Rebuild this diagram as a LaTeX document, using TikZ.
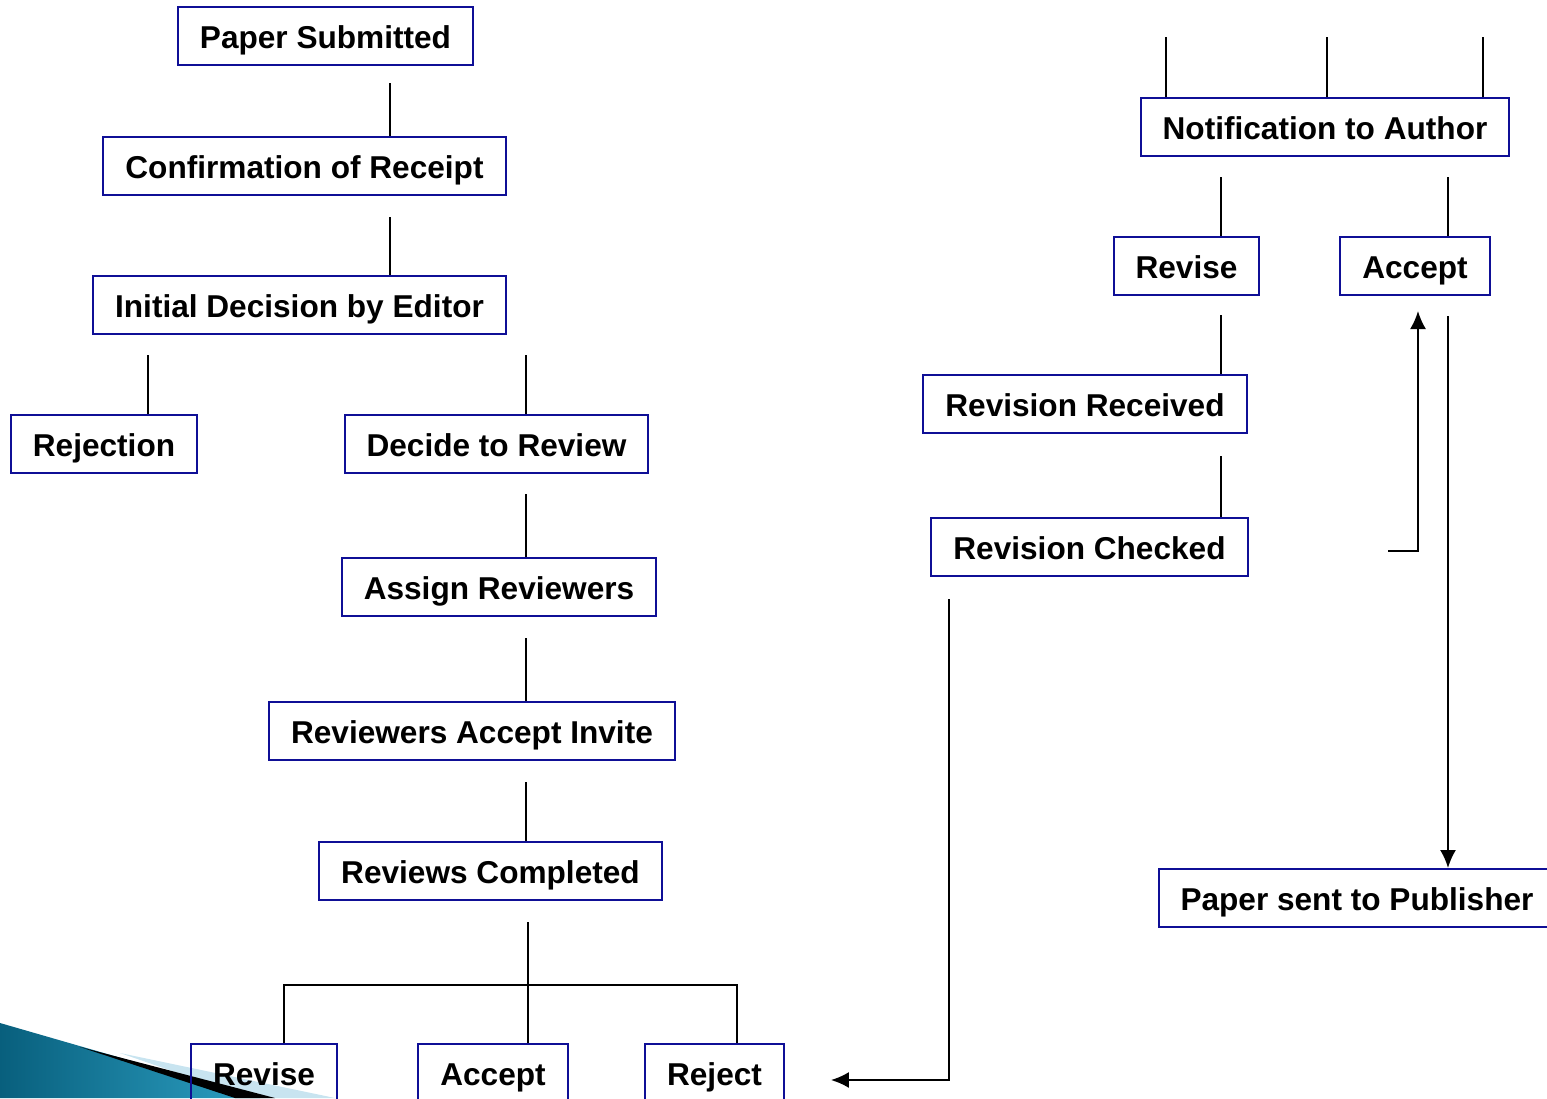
\documentclass[tikz,border=0pt]{standalone}
\usepackage{fontspec}
\setmainfont{Liberation Sans}
\usetikzlibrary{arrows.meta}

\definecolor{boxblue}{RGB}{15,15,150}
\definecolor{tealdark}{RGB}{8,95,125}
\definecolor{teallight}{RGB}{45,160,195}
\definecolor{paleblue}{RGB}{200,228,240}

\tikzset{
	stage/.style={draw=boxblue,line width=1pt,inner xsep=11pt,minimum height=29pt,
		text height=14pt,text depth=2pt,
		font=\fontsize{15.8}{19}\selectfont\bfseries},
	link/.style={line width=1pt},
	flow/.style={line width=1pt,-{Latex[length=9pt,width=8pt]}}
}

\begin{document}
\begin{tikzpicture}[x=0.5pt,y=-0.5pt]

\useasboundingbox (0,0) rectangle (1547,1098);
\clip (0,0) rectangle (1547,1098);

\def\stub#1#2#3{
	\draw[link] (#1,#2) coordinate (top) -- (top |- #3.north);
}

% corner swoosh
\fill[paleblue] (120,1053)--(335,1098)--(250,1098)--cycle;
\shade[left color=tealdark,right color=teallight] (0,1023)--(90,1049)--(260,1098)--(0,1098)--cycle;
\fill[black] (80,1047)--(275,1098)--(235,1098)--cycle;

% left column
\node[stage] (submitted) at (325.5,36) {Paper Submitted};
\node[stage] (receipt) at (304.5,166) {Confirmation of Receipt};
\node[stage] (initial) at (299.5,305) {Initial Decision by Editor};
\node[stage] (rejection) at (104,444) {Rejection};
\node[stage] (decide) at (496.5,444) {Decide to Review};
\node[stage] (assign) at (499,587) {Assign Reviewers};
\node[stage] (invite) at (472,731) {Reviewers Accept Invite};
\node[stage] (completed) at (490.5,871) {Reviews Completed};
\node[stage] (revise) at (264,1073) {Revise};
\node[stage] (accept) at (493,1073) {Accept};
\node[stage] (reject) at (714.5,1073) {Reject};

% right column
\node[stage] (notify) at (1325,127) {Notification to Author};
\node[stage] (revisetwo) at (1186.5,266) {Revise};
\node[stage] (accepttwo) at (1415,266) {Accept};
\node[stage] (received) at (1085,404) {Revision Received};
\node[stage] (checked) at (1089.5,547) {Revision Checked};
\node[stage] (publisher) at (1357,898) {Paper sent to Publisher};

\stub{390}{83}{receipt}
\stub{390}{217}{initial}
\stub{148}{355}{rejection}
\stub{526}{355}{decide}
\stub{526}{494}{assign}
\stub{526}{638}{invite}
\stub{526}{782}{completed}
\stub{528}{922}{accept}

\coordinate (fork) at (528,985);
\draw[link] ([xshift=10pt]revise.north) |- (fork) -| ([xshift=11.25pt]reject.north);

\foreach \x in {1166,1327,1483}{
	\stub{\x}{37}{notify}
}
\stub{1221}{177}{revisetwo}
\stub{1448}{177}{accepttwo}
\stub{1221}{315}{received}
\stub{1221}{456}{checked}

\coordinate (back) at (1388,551);
\draw[flow] (back) -| ([xshift=1.5pt,yshift=-7.5pt]accepttwo.south);

\draw[flow] ([xshift=16.5pt,yshift=-10pt]accepttwo.south) coordinate (down) -- (down |- publisher.north);

\coordinate (loop) at ([xshift=23pt,yshift=-3.5pt]reject.east);
\draw[flow] ([xshift=-70.25pt,yshift=-11pt]checked.south) |- (loop);

\end{tikzpicture}
\end{document}
